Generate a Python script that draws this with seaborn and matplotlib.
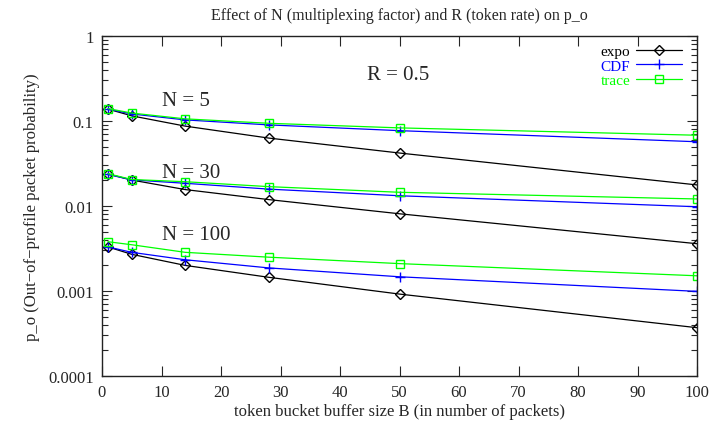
import matplotlib
matplotlib.use("Agg")
import matplotlib.pyplot as plt
import matplotlib.ticker as mticker
import seaborn as sns

# buffer sizes B (packets)
B = [1, 5, 14, 28, 50, 100]

# p_o values, R = 0.5
expo_n5 = [0.138, 0.115, 0.087, 0.063, 0.042, 0.0177]
cdf_n5 = [0.138, 0.121, 0.103, 0.090, 0.077, 0.057]
trace_n5 = [0.140, 0.124, 0.106, 0.094, 0.083, 0.068]

expo_n30 = [0.0238, 0.0202, 0.0156, 0.0119, 0.0081, 0.0036]
cdf_n30 = [0.0235, 0.0203, 0.0185, 0.0158, 0.0132, 0.0098]
trace_n30 = [0.0240, 0.0205, 0.0193, 0.0169, 0.0145, 0.0121]

expo_n100 = [0.0033, 0.0027, 0.0020, 0.00145, 0.00092, 0.00037]
cdf_n100 = [0.0033, 0.00285, 0.00233, 0.00187, 0.00147, 0.00099]
trace_n100 = [0.0038, 0.0035, 0.00285, 0.0025, 0.0021, 0.00151]

methods = ["expo", "CDF", "trace"]
groups = {
    5: [expo_n5, cdf_n5, trace_n5],
    30: [expo_n30, cdf_n30, trace_n30],
    100: [expo_n100, cdf_n100, trace_n100],
}

# стиль
sns.set_style("ticks")
plt.rcParams['font.family'] = ['Liberation Serif', 'DejaVu Serif']

colors = {"expo": "black", "CDF": "#0000ff", "trace": "#00ff00"}
markers = {"expo": "D", "CDF": "+", "trace": "s"}
msizes = {"expo": 5.2, "CDF": 7, "trace": 6.3}

fig = plt.figure(figsize=(7.15, 4.27), dpi=100)
ax = fig.add_axes([102 / 715, 50 / 427, 595 / 715, 340 / 427])

handles = []
for n, series in groups.items():
    for name, vals in zip(methods, series):
        sns.lineplot(x=B, y=vals, ax=ax, color=colors[name],
                     marker=markers[name], markersize=msizes[name],
                     markerfacecolor='none', markeredgecolor=colors[name],
                     markeredgewidth=1, linewidth=0.9, legend=False)
        if n == 5:
            handles.append(ax.lines[-1])

ax.set_yscale('log')
ax.set_ylim(0.0001, 1)
ax.set_xlim(0, 100)
ax.set_xticks(range(0, 101, 10))
ax.yaxis.set_major_formatter(mticker.FuncFormatter(lambda v, p: f"{v:g}"))
ax.yaxis.set_minor_formatter(mticker.NullFormatter())

ax.tick_params(which='both', direction='in', top=True, right=True)
ax.tick_params(which='major', length=7, width=0.8, labelsize=12, pad=6)
ax.tick_params(which='minor', length=4, width=0.8)
for sp in ax.spines.values():
    sp.set_linewidth(1)
    sp.set_color('#222222')

ax.set_xlabel('token bucket buffer size B (in number of packets)', fontsize=12, labelpad=2)
ax.set_ylabel('p_o (Out\u2212of\u2212profile packet probability)', fontsize=12, labelpad=6)
fig.text(399.5 / 715, 1 - 16 / 427, 'Effect of N (multiplexing factor) and R (token rate) on p_o',
         ha='center', va='center', fontsize=11.5)

ax.text(49.7, 0.348, 'R = 0.5', ha='center', va='center', fontsize=15)
ax.text(10.1, 0.172, 'N = 5', ha='left', va='center', fontsize=15)
ax.text(10.1, 0.0245, 'N = 30', ha='left', va='center', fontsize=15)
ax.text(10.1, 0.00456, 'N = 100', ha='left', va='center', fontsize=15)

leg = ax.legend(handles, methods, loc='upper right', bbox_to_anchor=(0.975, 0.975),
                frameon=False, markerfirst=False, fontsize=11, handlelength=3.0,
                handletextpad=0.4, labelspacing=0.05, borderpad=0, borderaxespad=0)
for t, h in zip(leg.get_texts(), handles):
    t.set_color(h.get_color())

fig.savefig('out.png', dpi=100)
